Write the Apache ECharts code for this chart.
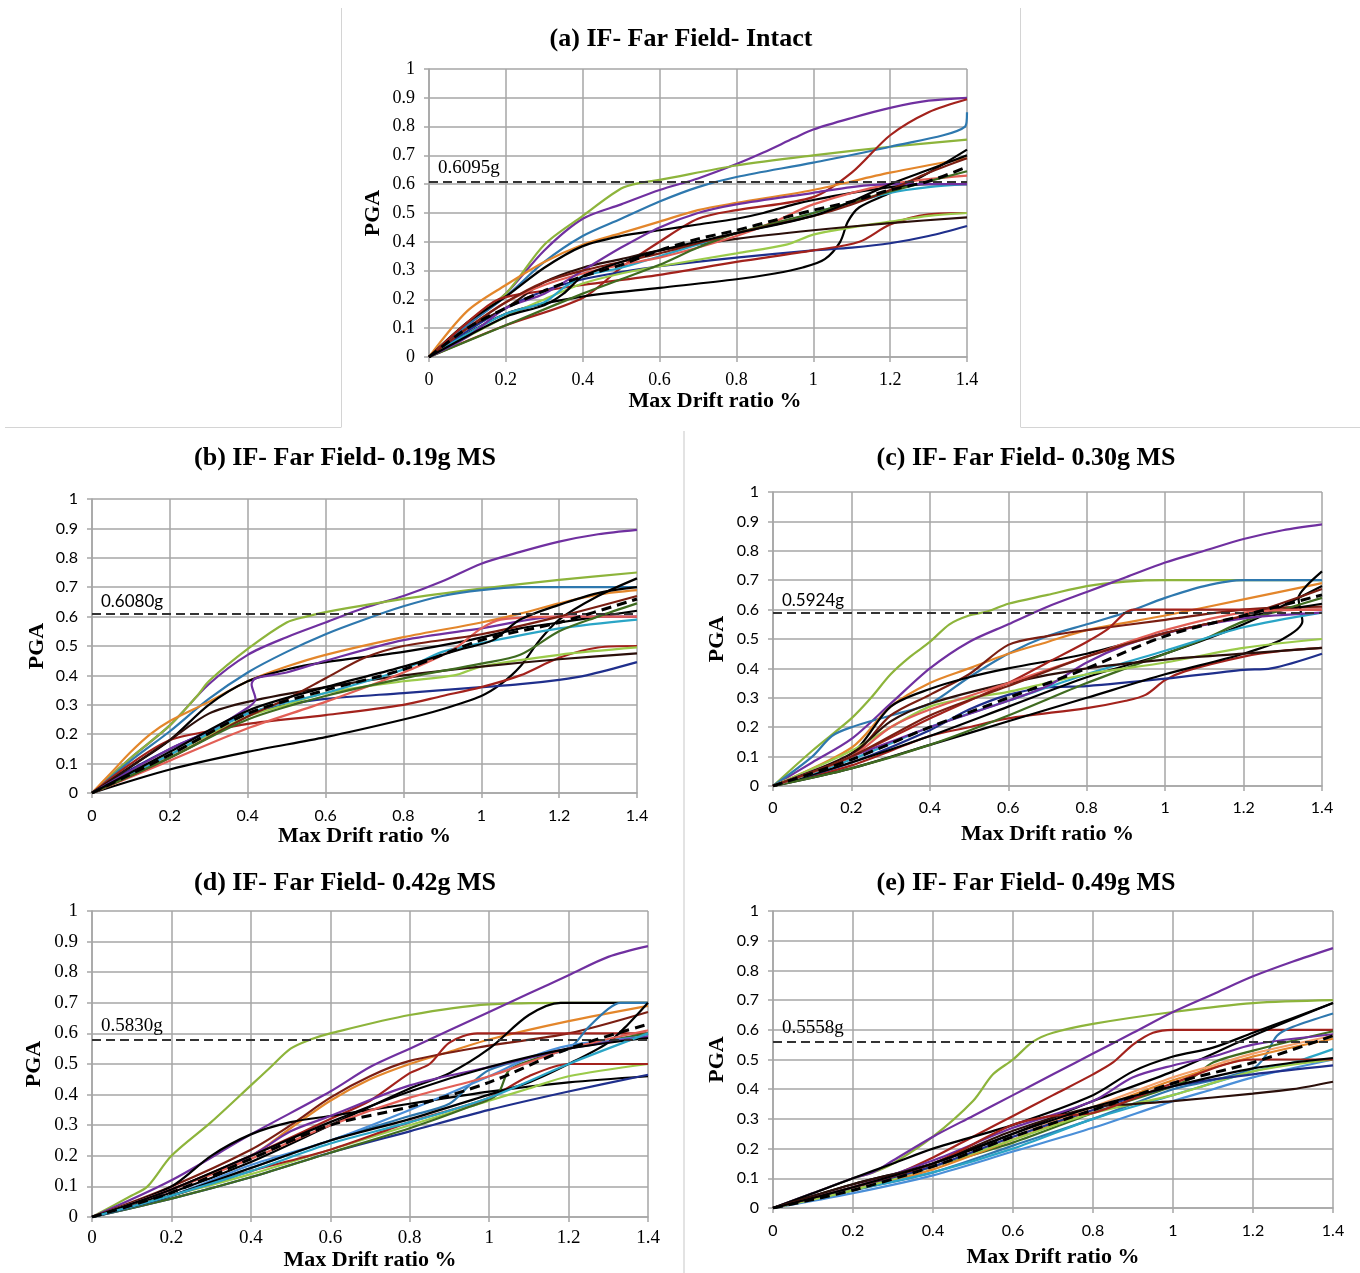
<!DOCTYPE html>
<html><head><meta charset="utf-8">
<script src="https://cdn.jsdelivr.net/npm/echarts@6/dist/echarts.min.js"></script>
<style>html,body{margin:0;padding:0;background:#fff}#c{width:1360px;height:1273px}</style>
</head><body><div id="c"></div>
<script>
// ---------------- DATA ----------------
const titles = ['(a) IF- Far Field- Intact','(b) IF- Far Field- 0.19g MS','(c) IF- Far Field- 0.30g MS','(d) IF- Far Field- 0.42g MS','(e) IF- Far Field- 0.49g MS'];
const thresholds = [0.6095, 0.6080, 0.5924, 0.5830, 0.5558];
const thresholdLabels = ['0.6095g','0.6080g','0.5924g','0.5830g','0.5558g'];
const xName = 'Max Drift ratio %';
const yName = 'PGA';

// Panel (a) curves: [drift %, PGA g]
const curvesA = [
 [[0,0],[0.1,0.11],[0.2,0.22],[0.3,0.37],[0.4,0.48],[0.5,0.53],[0.6,0.58],[0.7,0.62],[0.8,0.67],[0.87,0.71],[0.95,0.76],[1.0,0.79],[1.1,0.83],[1.2,0.865],[1.3,0.89],[1.4,0.9]],
 [[0,0],[0.1,0.12],[0.2,0.22],[0.3,0.39],[0.4,0.49],[0.5,0.585],[0.55,0.605],[0.6,0.615],[0.8,0.665],[1.0,0.70],[1.2,0.73],[1.4,0.755]],
 [[0,0],[0.1,0.11],[0.2,0.21],[0.3,0.33],[0.4,0.42],[0.5,0.48],[0.6,0.54],[0.7,0.59],[0.8,0.625],[1.0,0.675],[1.2,0.73],[1.395,0.80],[1.4,0.85]],
 [[0,0],[0.2,0.11],[0.4,0.205],[0.5,0.31],[0.6,0.40],[0.7,0.48],[0.8,0.51],[1.0,0.555],[1.1,0.64],[1.2,0.77],[1.3,0.85],[1.4,0.895]],
 [[0,0],[0.1,0.16],[0.2,0.25],[0.3,0.33],[0.4,0.39],[0.5,0.43],[0.6,0.47],[0.7,0.51],[0.8,0.535],[1.0,0.58],[1.2,0.64],[1.4,0.69]],
 [[0,0],[0.1,0.12],[0.2,0.21],[0.3,0.31],[0.4,0.385],[0.5,0.42],[0.6,0.44],[0.7,0.46],[0.8,0.48],[0.87,0.50],[0.95,0.53],[1.0,0.545],[1.1,0.57],[1.2,0.59],[1.3,0.6],[1.4,0.6]],
 [[0,0],[0.2,0.15],[0.4,0.21],[0.6,0.24],[0.8,0.27],[0.9,0.29],[0.97,0.31],[1.03,0.34],[1.07,0.40],[1.09,0.47],[1.12,0.52],[1.2,0.57],[1.3,0.64],[1.4,0.72]],
 [[0,0],[0.1,0.09],[0.2,0.17],[0.3,0.23],[0.4,0.27],[0.5,0.295],[0.6,0.315],[0.8,0.345],[1.0,0.37],[1.1,0.38],[1.2,0.395],[1.3,0.42],[1.4,0.455]],
 [[0,0],[0.1,0.12],[0.18,0.2],[0.3,0.23],[0.4,0.25],[0.6,0.285],[0.8,0.33],[1.0,0.37],[1.12,0.40],[1.2,0.46],[1.3,0.495],[1.4,0.50]],
 [[0,0],[0.2,0.14],[0.3,0.2],[0.4,0.255],[0.5,0.29],[0.6,0.315],[0.8,0.36],[0.93,0.39],[1.0,0.425],[1.1,0.45],[1.2,0.47],[1.3,0.49],[1.4,0.50]],
 [[0,0],[0.1,0.1],[0.2,0.17],[0.3,0.26],[0.4,0.31],[0.5,0.34],[0.6,0.37],[0.8,0.41],[1.0,0.44],[1.2,0.465],[1.4,0.485]],
 [[0,0],[0.1,0.08],[0.2,0.15],[0.3,0.19],[0.35,0.24],[0.4,0.28],[0.5,0.31],[0.6,0.35],[0.8,0.43],[0.9,0.46],[1.0,0.50],[1.2,0.57],[1.3,0.59],[1.4,0.60]],
 [[0,0],[0.1,0.1],[0.2,0.19],[0.3,0.25],[0.4,0.29],[0.5,0.32],[0.6,0.345],[0.7,0.38],[0.8,0.42],[0.9,0.47],[1.0,0.53],[1.2,0.6],[1.4,0.63]],
 [[0,0],[0.2,0.11],[0.4,0.22],[0.5,0.27],[0.6,0.32],[0.7,0.38],[0.8,0.43],[1.0,0.5],[1.2,0.575],[1.4,0.645]],
 [[0,0],[0.1,0.07],[0.2,0.17],[0.3,0.22],[0.4,0.3],[0.5,0.38],[0.6,0.45],[0.7,0.5],[0.8,0.53],[1.0,0.57],[1.1,0.59],[1.2,0.6],[1.4,0.6]],
 [[0,0],[0.1,0.1],[0.2,0.19],[0.3,0.26],[0.4,0.3],[0.6,0.36],[0.8,0.43],[1.0,0.49],[1.1,0.53],[1.2,0.58],[1.3,0.64],[1.4,0.69]],
 [[0,0],[0.2,0.14],[0.3,0.18],[0.35,0.22],[0.4,0.28],[0.5,0.33],[0.6,0.37],[0.8,0.43],[1.0,0.49],[1.1,0.54],[1.2,0.6],[1.3,0.65],[1.4,0.7]]
];
const medianA = [[0,0],[0.1,0.1],[0.2,0.17],[0.3,0.23],[0.4,0.28],[0.5,0.32],[0.6,0.37],[0.7,0.41],[0.8,0.44],[0.9,0.475],[1.0,0.51],[1.1,0.54],[1.2,0.58],[1.3,0.61],[1.4,0.66]];

// Panel (b)
const curvesB = [
 [[0,0],[0.1,0.12],[0.2,0.23],[0.3,0.37],[0.4,0.47],[0.5,0.53],[0.6,0.58],[0.7,0.63],[0.8,0.67],[0.9,0.72],[1.0,0.78],[1.1,0.82],[1.2,0.855],[1.3,0.88],[1.4,0.895]],
 [[0,0],[0.1,0.12],[0.2,0.23],[0.27,0.33],[0.3,0.38],[0.4,0.49],[0.5,0.58],[0.55,0.60],[0.6,0.615],[0.8,0.66],[1.0,0.695],[1.2,0.725],[1.4,0.75]],
 [[0,0],[0.1,0.11],[0.2,0.21],[0.3,0.32],[0.4,0.41],[0.5,0.48],[0.6,0.54],[0.7,0.59],[0.8,0.635],[0.9,0.67],[1.0,0.69],[1.1,0.70],[1.4,0.70]],
 [[0,0],[0.05,0.07],[0.1,0.14],[0.15,0.2],[0.2,0.245],[0.3,0.31],[0.4,0.38],[0.5,0.43],[0.6,0.47],[0.8,0.53],[1.0,0.58],[1.1,0.61],[1.2,0.645],[1.3,0.675],[1.4,0.69]],
 [[0,0],[0.1,0.09],[0.2,0.18],[0.3,0.3],[0.4,0.38],[0.5,0.42],[0.6,0.445],[0.8,0.48],[0.97,0.52],[1.1,0.56],[1.2,0.58],[1.3,0.6],[1.4,0.62]],
 [[0,0],[0.2,0.08],[0.4,0.14],[0.6,0.19],[0.8,0.25],[0.9,0.285],[1.0,0.33],[1.05,0.37],[1.1,0.43],[1.15,0.52],[1.2,0.59],[1.3,0.67],[1.4,0.73]],
 [[0,0],[0.1,0.08],[0.2,0.15],[0.3,0.21],[0.4,0.27],[0.5,0.30],[0.6,0.32],[0.8,0.34],[1.0,0.36],[1.1,0.37],[1.2,0.385],[1.27,0.40],[1.4,0.445]],
 [[0,0],[0.1,0.1],[0.2,0.18],[0.3,0.21],[0.4,0.235],[0.6,0.265],[0.8,0.30],[0.9,0.33],[1.0,0.36],[1.1,0.40],[1.2,0.46],[1.3,0.495],[1.4,0.50]],
 [[0,0],[0.2,0.13],[0.4,0.26],[0.5,0.30],[0.6,0.34],[0.8,0.38],[0.93,0.40],[1.0,0.43],[1.2,0.47],[1.4,0.495]],
 [[0,0],[0.2,0.18],[0.3,0.27],[0.4,0.31],[0.6,0.36],[0.8,0.40],[1.0,0.43],[1.2,0.455],[1.4,0.475]],
 [[0,0],[0.2,0.15],[0.3,0.21],[0.4,0.29],[0.42,0.32],[0.41,0.37],[0.42,0.39],[0.5,0.41],[0.6,0.45],[0.8,0.52],[1.0,0.56],[1.2,0.6],[1.4,0.6]],
 [[0,0],[0.2,0.13],[0.4,0.27],[0.6,0.34],[0.8,0.42],[0.9,0.48],[1.0,0.51],[1.2,0.56],[1.4,0.59]],
 [[0,0],[0.2,0.11],[0.4,0.22],[0.6,0.31],[0.8,0.41],[0.93,0.49],[1.0,0.56],[1.05,0.59],[1.2,0.6],[1.4,0.6]],
 [[0,0],[0.2,0.12],[0.4,0.26],[0.5,0.32],[0.6,0.39],[0.7,0.46],[0.8,0.5],[1.0,0.54],[1.2,0.6],[1.4,0.67]],
 [[0,0],[0.2,0.12],[0.4,0.25],[0.6,0.33],[0.8,0.39],[1.0,0.44],[1.1,0.47],[1.2,0.55],[1.3,0.6],[1.4,0.645]],
 [[0,0],[0.2,0.14],[0.4,0.28],[0.6,0.36],[0.8,0.43],[0.95,0.49],[1.03,0.52],[1.1,0.59],[1.2,0.64],[1.3,0.68],[1.4,0.70]]
];
const medianB = [[0,0],[0.2,0.13],[0.4,0.27],[0.6,0.35],[0.8,0.42],[1.0,0.52],[1.2,0.58],[1.4,0.66]];

// Panel (c)
const curvesC = [
 [[0,0],[0.1,0.12],[0.2,0.23],[0.25,0.3],[0.3,0.38],[0.35,0.44],[0.4,0.49],[0.45,0.55],[0.5,0.58],[0.55,0.595],[0.6,0.62],[0.7,0.65],[0.8,0.68],[0.9,0.695],[1.0,0.70],[1.4,0.70]],
 [[0,0],[0.1,0.08],[0.2,0.16],[0.3,0.28],[0.4,0.40],[0.5,0.49],[0.6,0.55],[0.7,0.61],[0.8,0.66],[0.9,0.71],[1.0,0.76],[1.1,0.80],[1.2,0.84],[1.3,0.87],[1.4,0.89]],
 [[0,0],[0.1,0.1],[0.15,0.17],[0.2,0.2],[0.3,0.24],[0.4,0.28],[0.5,0.37],[0.6,0.45],[0.7,0.51],[0.8,0.55],[0.9,0.59],[1.0,0.64],[1.1,0.68],[1.2,0.70],[1.4,0.70]],
 [[0,0],[0.2,0.13],[0.3,0.27],[0.4,0.35],[0.5,0.40],[0.6,0.45],[0.7,0.49],[0.8,0.53],[1.0,0.58],[1.2,0.635],[1.4,0.69]],
 [[0,0],[0.2,0.1],[0.3,0.24],[0.4,0.31],[0.5,0.38],[0.6,0.48],[0.7,0.51],[0.8,0.53],[1.0,0.565],[1.2,0.6],[1.4,0.61]],
 [[0,0],[0.2,0.07],[0.4,0.17],[0.5,0.2],[0.6,0.23],[0.8,0.265],[0.9,0.29],[0.95,0.31],[1.0,0.36],[1.05,0.39],[1.2,0.44],[1.3,0.46],[1.4,0.47]],
 [[0,0],[0.2,0.08],[0.4,0.19],[0.5,0.26],[0.6,0.31],[0.7,0.335],[0.8,0.34],[1.0,0.365],[1.2,0.395],[1.27,0.40],[1.4,0.45]],
 [[0,0],[0.2,0.11],[0.3,0.27],[0.4,0.33],[0.5,0.37],[0.6,0.40],[0.8,0.45],[1.0,0.52],[1.2,0.575],[1.4,0.62]],
 [[0,0],[0.2,0.06],[0.4,0.14],[0.6,0.22],[0.8,0.30],[1.0,0.38],[1.2,0.45],[1.3,0.5],[1.35,0.56],[1.34,0.64],[1.36,0.68],[1.4,0.73]],
 [[0,0],[0.2,0.08],[0.4,0.17],[0.6,0.27],[0.8,0.37],[1.0,0.45],[1.2,0.55],[1.4,0.68]],
 [[0,0],[0.2,0.06],[0.4,0.14],[0.6,0.24],[0.8,0.35],[1.0,0.45],[1.1,0.5],[1.2,0.56],[1.3,0.6],[1.4,0.64]],
 [[0,0],[0.2,0.1],[0.4,0.23],[0.6,0.35],[0.7,0.42],[0.8,0.49],[0.85,0.53],[0.92,0.6],[1.0,0.6],[1.4,0.6]],
 [[0,0],[0.2,0.09],[0.4,0.2],[0.6,0.29],[0.8,0.38],[1.0,0.46],[1.2,0.54],[1.4,0.59]],
 [[0,0],[0.2,0.12],[0.3,0.2],[0.4,0.27],[0.5,0.3],[0.6,0.32],[0.8,0.38],[1.0,0.42],[1.2,0.47],[1.4,0.50]],
 [[0,0],[0.2,0.1],[0.4,0.2],[0.6,0.29],[0.7,0.34],[0.8,0.42],[0.9,0.48],[1.0,0.52],[1.2,0.57],[1.4,0.59]],
 [[0,0],[0.2,0.11],[0.3,0.22],[0.4,0.28],[0.6,0.35],[0.8,0.40],[1.0,0.43],[1.2,0.45],[1.4,0.47]],
 [[0,0],[0.2,0.1],[0.3,0.2],[0.4,0.26],[0.6,0.35],[0.8,0.44],[1.0,0.53],[1.2,0.59],[1.4,0.6]],
 [[0,0],[0.2,0.1],[0.4,0.24],[0.6,0.34],[0.8,0.44],[1.0,0.52],[1.2,0.58],[1.4,0.67]]
];
const medianC = [[0,0],[0.2,0.09],[0.4,0.2],[0.6,0.3],[0.8,0.4],[1.0,0.51],[1.2,0.58],[1.4,0.65]];

// Panel (d)
const curvesD = [
 [[0,0],[0.1,0.07],[0.14,0.1],[0.2,0.2],[0.3,0.31],[0.4,0.43],[0.45,0.49],[0.5,0.55],[0.55,0.58],[0.6,0.6],[0.8,0.66],[1.0,0.695],[1.2,0.70],[1.4,0.70]],
 [[0,0],[0.2,0.12],[0.4,0.27],[0.6,0.41],[0.7,0.49],[0.8,0.55],[1.0,0.67],[1.1,0.73],[1.2,0.79],[1.3,0.85],[1.4,0.885]],
 [[0,0],[0.2,0.09],[0.4,0.2],[0.5,0.29],[0.6,0.38],[0.7,0.45],[0.8,0.5],[0.9,0.54],[1.0,0.58],[1.2,0.64],[1.4,0.69]],
 [[0,0],[0.2,0.1],[0.4,0.22],[0.5,0.3],[0.6,0.39],[0.7,0.46],[0.8,0.51],[1.0,0.56],[1.2,0.6],[1.4,0.67]],
 [[0,0],[0.2,0.09],[0.4,0.2],[0.6,0.32],[0.7,0.38],[0.8,0.47],[0.85,0.5],[0.9,0.57],[0.97,0.6],[1.2,0.6],[1.4,0.6]],
 [[0,0],[0.2,0.08],[0.4,0.18],[0.6,0.3],[0.8,0.42],[0.9,0.47],[1.0,0.55],[1.1,0.66],[1.18,0.7],[1.4,0.7]],
 [[0,0],[0.2,0.1],[0.3,0.2],[0.4,0.27],[0.5,0.31],[0.6,0.33],[0.8,0.37],[1.0,0.41],[1.2,0.44],[1.4,0.46]],
 [[0,0],[0.2,0.06],[0.4,0.13],[0.6,0.21],[0.8,0.28],[1.0,0.35],[1.2,0.41],[1.4,0.465]],
 [[0,0],[0.2,0.07],[0.4,0.14],[0.6,0.22],[0.8,0.3],[1.0,0.38],[1.1,0.42],[1.2,0.46],[1.4,0.50]],
 [[0,0],[0.2,0.06],[0.4,0.13],[0.6,0.21],[0.8,0.29],[0.95,0.36],[1.02,0.4],[1.05,0.48],[1.1,0.51],[1.2,0.55],[1.4,0.6]],
 [[0,0],[0.2,0.07],[0.4,0.16],[0.6,0.25],[0.8,0.33],[0.9,0.37],[0.95,0.43],[1.0,0.48],[1.1,0.52],[1.2,0.55],[1.25,0.62],[1.3,0.68],[1.33,0.7],[1.4,0.7]],
 [[0,0],[0.2,0.07],[0.4,0.17],[0.6,0.25],[0.8,0.35],[1.0,0.46],[1.1,0.52],[1.2,0.56],[1.4,0.59]],
 [[0,0],[0.2,0.07],[0.4,0.15],[0.6,0.22],[0.8,0.31],[1.0,0.39],[1.1,0.46],[1.2,0.5],[1.4,0.5]],
 [[0,0],[0.2,0.07],[0.4,0.16],[0.6,0.25],[0.8,0.32],[1.0,0.4],[1.1,0.44],[1.2,0.5],[1.3,0.57],[1.35,0.63],[1.4,0.7]],
 [[0,0],[0.2,0.09],[0.4,0.2],[0.5,0.28],[0.6,0.33],[0.8,0.43],[1.0,0.49],[1.1,0.52],[1.2,0.55],[1.4,0.59]],
 [[0,0],[0.2,0.09],[0.4,0.19],[0.6,0.3],[0.8,0.39],[1.0,0.46],[1.2,0.55],[1.4,0.61]],
 [[0,0],[0.2,0.09],[0.4,0.2],[0.6,0.31],[0.8,0.41],[1.0,0.49],[1.2,0.55],[1.4,0.585]],
 [[0,0],[0.2,0.07],[0.4,0.15],[0.6,0.24],[0.8,0.31],[1.0,0.39],[1.2,0.5],[1.4,0.6]]
];
const medianD = [[0,0],[0.2,0.08],[0.4,0.19],[0.6,0.3],[0.8,0.36],[1.0,0.44],[1.2,0.55],[1.4,0.63]];

// Panel (e)
const curvesE = [
 [[0,0],[0.1,0.05],[0.2,0.1],[0.25,0.12],[0.3,0.15],[0.4,0.24],[0.5,0.36],[0.55,0.45],[0.6,0.5],[0.65,0.56],[0.7,0.59],[0.8,0.62],[1.0,0.66],[1.2,0.69],[1.4,0.70]],
 [[0,0],[0.1,0.05],[0.2,0.1],[0.25,0.12],[0.3,0.16],[0.4,0.24],[0.5,0.31],[0.6,0.38],[0.7,0.45],[0.8,0.52],[0.9,0.59],[1.0,0.66],[1.1,0.72],[1.2,0.78],[1.3,0.83],[1.4,0.875]],
 [[0,0],[0.2,0.07],[0.3,0.11],[0.4,0.17],[0.5,0.24],[0.6,0.31],[0.7,0.38],[0.8,0.45],[0.85,0.49],[0.9,0.55],[0.95,0.59],[1.0,0.6],[1.4,0.6]],
 [[0,0],[0.2,0.1],[0.3,0.15],[0.4,0.2],[0.6,0.28],[0.8,0.38],[0.9,0.46],[1.0,0.51],[1.1,0.54],[1.2,0.59],[1.3,0.64],[1.4,0.69]],
 [[0,0],[0.2,0.08],[0.4,0.15],[0.6,0.25],[0.8,0.36],[1.0,0.46],[1.2,0.58],[1.4,0.69]],
 [[0,0],[0.2,0.06],[0.4,0.12],[0.6,0.21],[0.8,0.3],[1.0,0.4],[1.1,0.43],[1.2,0.47],[1.23,0.51],[1.26,0.58],[1.3,0.61],[1.4,0.655]],
 [[0,0],[0.2,0.06],[0.4,0.14],[0.6,0.22],[0.8,0.32],[1.0,0.41],[1.05,0.44],[1.1,0.49],[1.2,0.53],[1.4,0.595]],
 [[0,0],[0.2,0.07],[0.4,0.16],[0.6,0.27],[0.8,0.36],[0.9,0.44],[1.0,0.48],[1.1,0.51],[1.2,0.55],[1.4,0.585]],
 [[0,0],[0.2,0.06],[0.4,0.13],[0.6,0.23],[0.8,0.33],[1.0,0.43],[1.2,0.51],[1.4,0.57]],
 [[0,0],[0.2,0.07],[0.4,0.14],[0.6,0.24],[0.8,0.34],[1.0,0.44],[1.1,0.48],[1.2,0.52],[1.4,0.58]],
 [[0,0],[0.2,0.06],[0.4,0.12],[0.6,0.2],[0.8,0.3],[1.0,0.38],[1.2,0.46],[1.3,0.49],[1.4,0.535]],
 [[0,0],[0.2,0.05],[0.4,0.11],[0.6,0.19],[0.8,0.27],[1.0,0.36],[1.1,0.4],[1.2,0.44],[1.4,0.5]],
 [[0,0],[0.2,0.06],[0.4,0.14],[0.6,0.23],[0.8,0.32],[1.0,0.38],[1.2,0.46],[1.4,0.5]],
 [[0,0],[0.2,0.07],[0.4,0.14],[0.6,0.24],[0.8,0.33],[1.0,0.41],[1.2,0.45],[1.4,0.48]],
 [[0,0],[0.2,0.08],[0.4,0.15],[0.6,0.26],[0.8,0.34],[0.9,0.35],[1.0,0.36],[1.2,0.385],[1.3,0.4],[1.4,0.425]],
 [[0,0],[0.2,0.07],[0.4,0.15],[0.6,0.28],[0.7,0.31],[0.8,0.32],[1.0,0.42],[1.2,0.5],[1.4,0.5]],
 [[0,0],[0.2,0.07],[0.4,0.15],[0.6,0.25],[0.8,0.34],[1.0,0.41],[1.2,0.47],[1.4,0.505]]
];
const medianE = [[0,0],[0.2,0.06],[0.4,0.14],[0.6,0.24],[0.8,0.33],[1.0,0.42],[1.2,0.49],[1.4,0.58]];

// ---------------- STYLE ----------------
const C = {purple:'#7030A0', green:'#8DB43B', blue:'#2E78AE', red:'#A3221C', orange:'#E3862B', black:'#000000',
  navy:'#1F2F8C', teal:'#2AA5C6', salmon:'#E25F56', dkgreen:'#3F6B20', ltgreen:'#9BCB4A', ltblue:'#4A8FD8',
  maroon:'#7A1E12', brown:'#2B0F0A', ltorange:'#F5A06A'};
const colorsA = ['purple','green','blue','red','orange','black','black','navy','red','ltgreen','brown','teal','salmon','dkgreen','purple','maroon','black'];
const colorsB = ['purple','green','blue','orange','black','black','navy','red','ltgreen','brown','purple','teal','salmon','maroon','dkgreen','black'];
const colorsC = ['green','purple','blue','orange','maroon','red','navy','black','black','black','dkgreen','red','teal','ltgreen','purple','brown','salmon','maroon'];
const colorsD = ['green','purple','orange','maroon','red','black','black','navy','ltgreen','dkgreen','blue','ltblue','red','black','purple','salmon','black','teal'];
const colorsE = ['green','purple','red','black','black','blue','dkgreen','purple','orange','ltorange','teal','ltblue','ltgreen','navy','brown','red','black'];

const SERIF = 'Liberation Serif', SANS = 'Lato';
const layout = [
 {left:429, top:69, width:538, height:288, tx:681, ty:38, tickFont:SERIF, tickSize:18, labFont:SERIF, labSize:19, xMargin:14, xGap:31, xPad:[0,0,0,34], yGap:45},
 {left:92, top:499, width:545, height:294, tx:345, ty:457, tickFont:SANS, tickSize:16, labFont:SANS, labSize:17, xMargin:15, xGap:31, xPad:[0,0,0,0], yGap:44},
 {left:773, top:492, width:549, height:294, tx:1026, ty:457, tickFont:SANS, tickSize:16, labFont:SANS, labSize:17, xMargin:14, xGap:37, xPad:[0,0,0,0], yGap:45},
 {left:92, top:911, width:556, height:306, tx:345, ty:882, tickFont:SERIF, tickSize:19, labFont:SERIF, labSize:19, xMargin:12, xGap:31, xPad:[0,0,0,0], yGap:47},
 {left:773, top:911, width:560, height:297, tx:1026, ty:882, tickFont:SANS, tickSize:16, labFont:SERIF, labSize:19, xMargin:15, xGap:38, xPad:[0,0,0,0], yGap:45}
];

const allCurves = [curvesA, curvesB, curvesC, curvesD, curvesE];
const allColors = [colorsA, colorsB, colorsC, colorsD, colorsE];
const allMedians = [medianA, medianB, medianC, medianD, medianE];

const gridColor = '#A6A6A6';
const grids = [], xAxes = [], yAxes = [], series = [], graphics = [];

layout.forEach((L, i) => {
  grids.push({left:L.left, top:L.top, width:L.width, height:L.height, containLabel:false});
  xAxes.push({
    gridIndex:i, type:'value', min:0, max:1.4, interval:0.2,
    axisLine:{show:true, onZero:false, lineStyle:{color:gridColor, width:1.5}},
    axisTick:{show:true, length:5, lineStyle:{color:gridColor, width:1.5}},
    splitLine:{show:true, lineStyle:{color:gridColor, width:1.5}},
    axisLabel:{fontFamily:L.tickFont, fontSize:L.tickSize, color:'#000', margin:L.xMargin},
    name:xName, nameLocation:'middle', nameGap:L.xGap,
    nameTextStyle:{fontFamily:SERIF, fontWeight:'bold', fontSize:22, color:'#000', padding:L.xPad}
  });
  yAxes.push({
    gridIndex:i, type:'value', min:0, max:1, interval:0.1,
    axisLine:{show:true, lineStyle:{color:gridColor, width:1.5}},
    axisTick:{show:true, length:5, lineStyle:{color:gridColor, width:1.5}},
    splitLine:{show:true, lineStyle:{color:gridColor, width:1.5}},
    axisLabel:{fontFamily:L.tickFont, fontSize:L.tickSize, color:'#000', margin:14},
    name:yName, nameLocation:'middle', nameGap:L.yGap,
    nameTextStyle:{fontFamily:SERIF, fontWeight:'bold', fontSize:22, color:'#000'}
  });
  allCurves[i].forEach((pts, j) => {
    series.push({
      type:'line', xAxisIndex:i, yAxisIndex:i, data:pts, smooth:0.3, symbol:'none',
      silent:true, animation:false, z:2,
      lineStyle:{color:C[allColors[i][j]], width:2.2}
    });
  });
  series.push({
    type:'line', xAxisIndex:i, yAxisIndex:i, data:allMedians[i], smooth:0.3, symbol:'none',
    silent:true, animation:false, z:5,
    lineStyle:{color:'#000', width:3, type:[10,6]},
    markLine:{
      silent:true, symbol:'none', animation:false,
      lineStyle:{color:'#333', width:2, type:[9,5]},
      label:{show:true, position:'insideStartTop', distance:[9,4], formatter:thresholdLabels[i],
        fontFamily:L.labFont, fontSize:L.labSize, color:'#000'},
      data:[{yAxis:thresholds[i]}]
    }
  });
  graphics.push({type:'text', x:L.tx, y:L.ty + 1, silent:true,
    style:{text:titles[i], fontFamily:SERIF, fontWeight:'bold', fontSize:26, fill:'#000', align:'center', verticalAlign:'middle'}});
});

const borderC = '#D4D4D4';
graphics.push(
  {type:'line', shape:{x1:341.5, y1:8, x2:341.5, y2:427}, style:{stroke:borderC, lineWidth:1}, silent:true},
  {type:'line', shape:{x1:5, y1:427.5, x2:341.5, y2:427.5}, style:{stroke:borderC, lineWidth:1}, silent:true},
  {type:'line', shape:{x1:1020.5, y1:8, x2:1020.5, y2:427}, style:{stroke:borderC, lineWidth:1}, silent:true},
  {type:'line', shape:{x1:1020.5, y1:427.5, x2:1360, y2:427.5}, style:{stroke:borderC, lineWidth:1}, silent:true},
  {type:'line', shape:{x1:684, y1:431, x2:684, y2:1273}, style:{stroke:'#E3E3E3', lineWidth:2}, silent:true}
);

const chart = echarts.init(document.getElementById('c'), null, {renderer:'canvas'});
chart.setOption({
  animation:false,
  backgroundColor:'#fff',
  grid:grids, xAxis:xAxes, yAxis:yAxes, series:series, graphic:graphics
});
</script></body></html>
